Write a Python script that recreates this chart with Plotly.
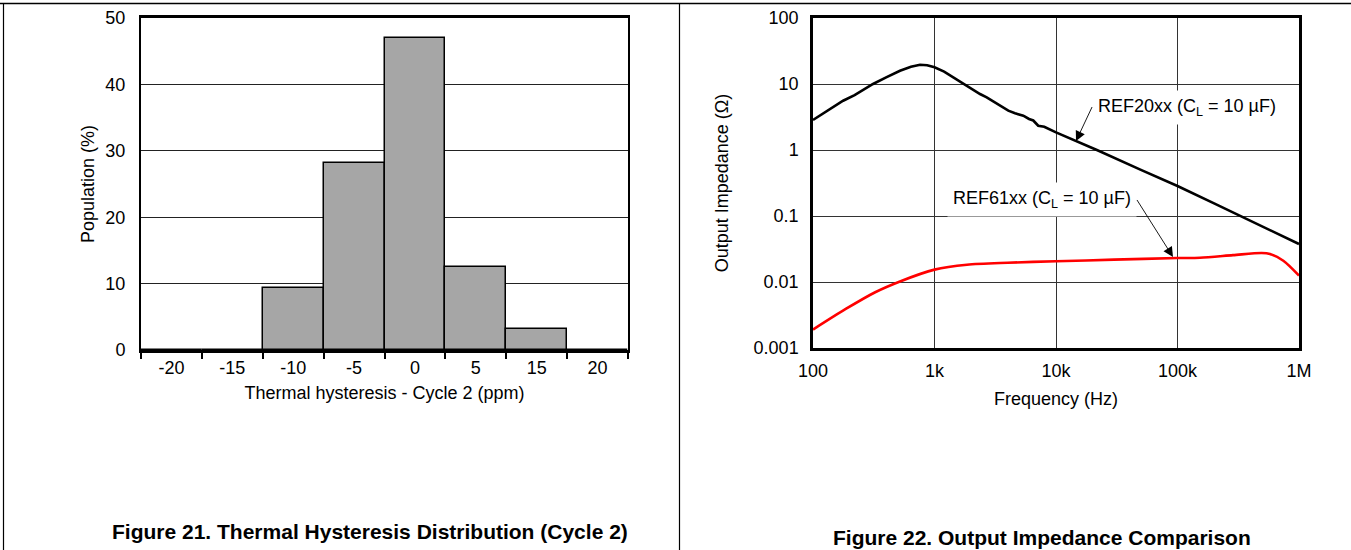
import plotly.graph_objects as go

W, H = 1351, 550

# ---------------- data ----------------
hist_categories = ["-20", "-15", "-10", "-5", "0", "5", "15", "20"]
hist_population = [0, 0, 9.4, 28.1, 47.0, 12.5, 3.1, 0]

ref20_freq = [100, 130, 177, 220, 312, 400, 520, 640, 760, 870, 1000, 1200, 1710,
              2370, 2690, 3300, 4050, 4600, 5380, 6000, 6500, 7140, 8000, 10000,
              21700, 50000, 100000, 200000, 500000, 1000000]
ref20_z = [2.85, 3.9, 5.58, 6.8, 10.0, 12.6, 15.9, 18.2, 19.6, 19.2, 17.9, 15.4, 10.1,
           7.05, 6.29, 5.0, 3.94, 3.6, 3.31, 2.95, 2.8, 2.33, 2.25, 1.85,
           1.0, 0.50, 0.285, 0.155, 0.069, 0.0377]

ref61_freq = [100, 186, 325, 520, 1000, 1850, 4000, 10000, 30000, 100000, 153000,
              286000, 493000, 577000, 743000, 1000000]
ref61_z = [0.0019, 0.0039, 0.0070, 0.0102, 0.0154, 0.0183, 0.0196, 0.0206, 0.0218,
           0.0231, 0.0233, 0.0255, 0.0275, 0.0266, 0.0210, 0.0125]

y_tickvals = [0.001, 0.01, 0.1, 1, 10, 100]
y_ticktext = ["0.001", "0.01", "0.1", "1", "10", "100"]
x_tickvals = [100, 1000, 10000, 100000, 1000000]
x_ticktext = ["100", "1k", "10k", "100k", "1M"]

FONT = "Liberation Sans, Arial, sans-serif"
FS = 18


def px(x):
    return x / W


def py(y):
    return 1 - y / H


fig = go.Figure()

fig.add_trace(go.Bar(
    x=hist_categories, y=hist_population, xaxis="x", yaxis="y",
    marker=dict(color="#a6a6a6", line=dict(color="black", width=1.5)),
    showlegend=False,
))

fig.add_trace(go.Scatter(
    x=ref20_freq, y=ref20_z, xaxis="x2", yaxis="y2", mode="lines",
    line=dict(color="black", width=2.6), showlegend=False,
))
fig.add_trace(go.Scatter(
    x=ref61_freq, y=ref61_z, xaxis="x2", yaxis="y2", mode="lines",
    line=dict(color="#ff0000", width=2.6, shape="spline", smoothing=0.8),
    showlegend=False,
))

axis_font = dict(family=FONT, size=FS, color="black")

fig.update_layout(
    width=W, height=H,
    margin=dict(l=0, r=0, t=0, b=0),
    paper_bgcolor="white", plot_bgcolor="white",
    font=dict(family=FONT, size=FS, color="black"),
    bargap=0,
    xaxis=dict(
        domain=[px(141), px(628)], anchor="y",
        type="category", tickson="boundaries", ticks="outside", ticklen=6,
        tickwidth=2, tickcolor="black", showgrid=False,
        showline=True, linecolor="black", linewidth=2.5, mirror=True,
        tickfont=axis_font,
        title=dict(text="Thermal hysteresis - Cycle 2 (ppm)", font=axis_font, standoff=10),
        automargin=False, fixedrange=True,
    ),
    yaxis=dict(
        domain=[py(350), py(18)], anchor="x",
        range=[0, 50], dtick=10, ticks="", showgrid=True, gridcolor="#222",
        gridwidth=1, zeroline=False,
        showline=True, linecolor="black", linewidth=2, mirror=True,
        tickfont=axis_font, ticklabelstandoff=10,
        title=dict(text="Population (%)", font=axis_font, standoff=6),
        automargin=False, fixedrange=True,
    ),
    xaxis2=dict(
        domain=[px(813), px(1299)], anchor="y2",
        type="log", range=[2, 6], tickvals=x_tickvals, ticktext=x_ticktext,
        ticks="", showgrid=True, gridcolor="#333", gridwidth=1,
        showline=True, linecolor="black", linewidth=2.5, mirror=True,
        tickfont=axis_font, ticklabelstandoff=5,
        title=dict(text="Frequency (Hz)", font=axis_font, standoff=13),
        automargin=False, fixedrange=True,
    ),
    yaxis2=dict(
        domain=[py(348), py(18)], anchor="x2",
        type="log", range=[-3, 2], tickvals=y_tickvals, ticktext=y_ticktext,
        ticks="", showgrid=True, gridcolor="#333", gridwidth=1, zeroline=False,
        showline=True, linecolor="black", linewidth=2.5, mirror=True,
        tickfont=axis_font, ticklabelstandoff=8,
        title=dict(text="Output Impedance (Ω)", font=axis_font, standoff=21),
        automargin=False, fixedrange=True,
    ),
)

# Frame lines of the page
fig.add_shape(type="line", xref="paper", yref="paper", x0=0, x1=1, y0=py(3.5), y1=py(3.5),
              line=dict(color="black", width=1.5))
fig.add_shape(type="line", xref="paper", yref="paper", x0=px(3.5), x1=px(3.5), y0=0, y1=py(3.5),
              line=dict(color="black", width=1.2))
fig.add_shape(type="line", xref="paper", yref="paper", x0=px(679.5), x1=px(679.5), y0=0, y1=py(3.5),
              line=dict(color="black", width=1.2))

# Series labels with arrows (text box has white background)
fig.add_annotation(xref="x2", yref="y2", x=4.165, y=0.136, ax=16, ay=-34,
                   xanchor="left", yanchor="middle",
                   text="REF20xx (C<sub>L</sub> = 10 µF)", bgcolor="white", borderpad=5,
                   showarrow=True, arrowhead=2, arrowsize=2.2, arrowwidth=0.9,
                   arrowcolor="black",
                   font=dict(family=FONT, size=FS, color="black"))
fig.add_annotation(xref="x2", yref="y2", x=4.963, y=-1.621, ax=-36, ay=-57,
                   xanchor="right", yanchor="middle",
                   text="REF61xx (C<sub>L</sub> = 10 µF)", bgcolor="white", borderpad=5,
                   showarrow=True, arrowhead=2, arrowsize=2.2, arrowwidth=0.9,
                   arrowcolor="black",
                   font=dict(family=FONT, size=FS, color="black"))

# Figure captions
fig.add_annotation(xref="paper", yref="paper", x=px(370), y=py(531),
                   xanchor="center", yanchor="middle", showarrow=False,
                   text="<b>Figure 21. Thermal Hysteresis Distribution (Cycle 2)</b>",
                   font=dict(family=FONT, size=21, color="black"))
fig.add_annotation(xref="paper", yref="paper", x=px(1042), y=py(537),
                   xanchor="center", yanchor="middle", showarrow=False,
                   text="<b>Figure 22. Output Impedance Comparison</b>",
                   font=dict(family=FONT, size=21, color="black"))

fig.write_html("out.html")
